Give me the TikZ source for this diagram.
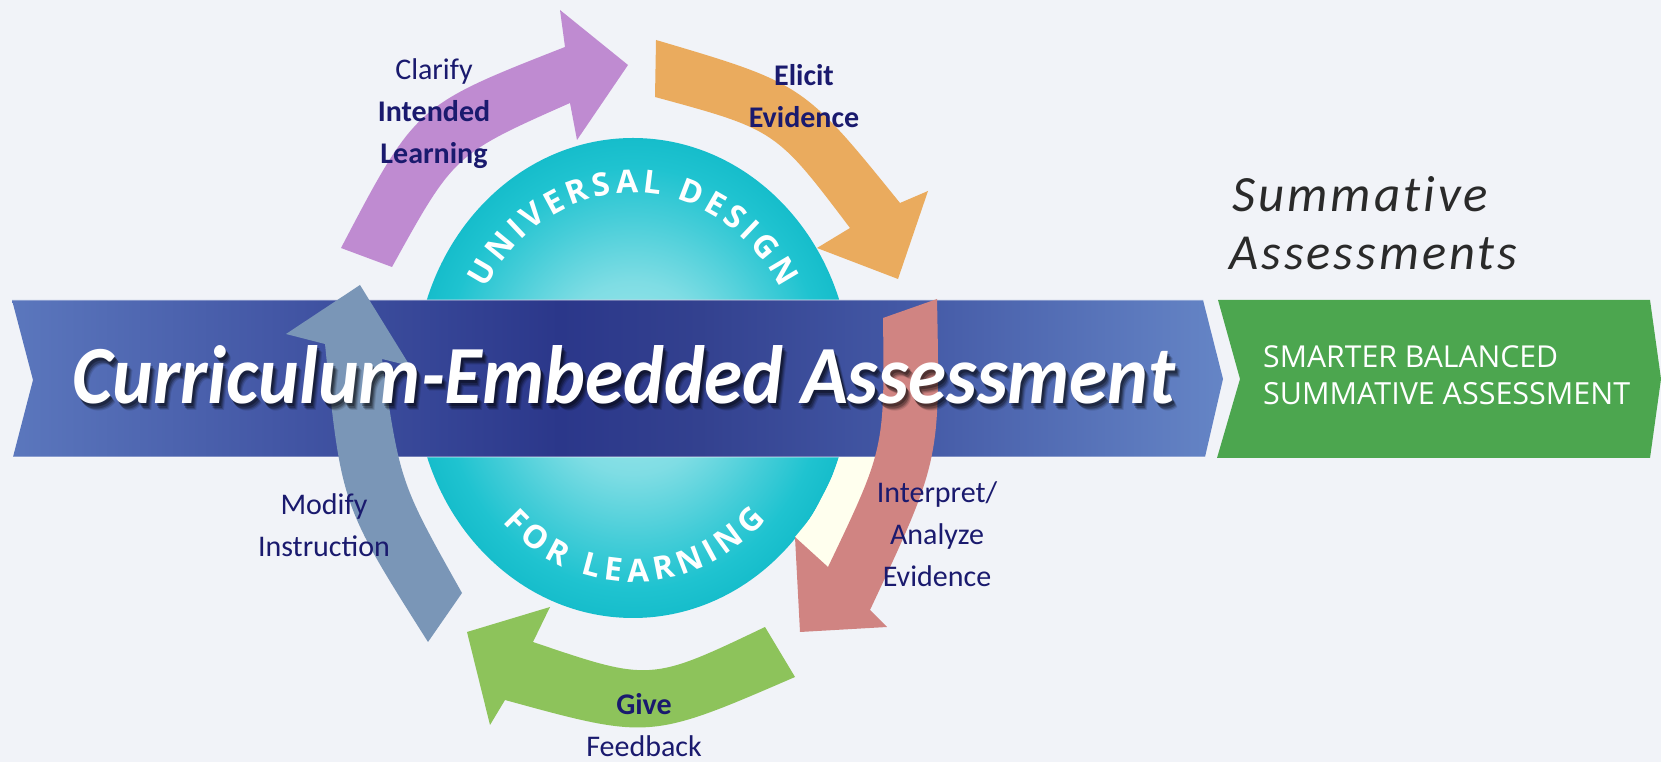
\documentclass[tikz,border=0pt]{standalone}
\usepackage{graphicx}
\usepackage{fontspec}
\setmainfont{Carlito}
\newfontfamily\osans{Open Sans}
\newfontfamily\summfont[LetterSpace=6,Ligatures=CommonOff]{Carlito}
\usetikzlibrary{decorations.text}
\definecolor{bgc}{HTML}{F1F3F8}
\definecolor{bandA}{HTML}{5B77BD}
\definecolor{bandB}{HTML}{4154A3}
\definecolor{bandC}{HTML}{2B378A}
\definecolor{bandD}{HTML}{33418F}
\definecolor{bandE}{HTML}{4358A5}
\definecolor{bandF}{HTML}{6585C6}
\definecolor{tealC}{HTML}{A9EAEE}
\definecolor{tealM1}{HTML}{7FDDE4}
\definecolor{tealM2}{HTML}{45CDD8}
\definecolor{tealE1}{HTML}{1FC3D0}
\definecolor{tealE2}{HTML}{16BDCB}
\definecolor{purpA}{HTML}{BF8BD1}
\definecolor{orngA}{HTML}{EAAB5E}
\definecolor{redA}{HTML}{D08482}
\definecolor{grnA}{HTML}{8DC35B}
\definecolor{blueA}{HTML}{7A96B7}
\definecolor{creamA}{HTML}{FFFFEE}
\definecolor{chevG}{HTML}{4CA64F}
\definecolor{labelc}{HTML}{1A1A6E}
\definecolor{summc}{HTML}{2A2A2A}
\pgfdeclarehorizontalshading{bandshade}{100bp}{color(0bp)=(bandA); color(25bp)=(bandA); color(36.9bp)=(bandB); color(47.6bp)=(bandC); color(53.4bp)=(bandD); color(61.7bp)=(bandE); color(75bp)=(bandF); color(100bp)=(bandF)}
\pgfdeclareradialshading{ballteal}{\pgfpoint{0bp}{0bp}}{color(0bp)=(tealC); color(10bp)=(tealM1); color(17bp)=(tealM2); color(22bp)=(tealE1); color(25bp)=(tealE2); color(50bp)=(tealE2)}
\newcommand\cematitle{\resizebox{1102pt}{58pt}{\bfseries\itshape Curriculum-Embedded Assessment}}
\tikzset{
  lbl/.style={text=labelc, font=\fontsize{30}{42}\selectfont, align=center, inner sep=0pt, anchor=base},
  plain/.style={inner sep=0pt, anchor=base west},
}
\begin{document}
\begin{tikzpicture}[x=1pt,y=1pt]
\useasboundingbox (0,0) rectangle (1661,762);
\fill[bgc] (0,0) rectangle (1661,762);
% central disc
\shade[shading=ballteal] (633,384) ellipse [x radius=218, y radius=240];
\path[decorate, decoration={text along path, text={|\osans\bfseries\fontsize{32}{32}\selectfont\color{white}|UNIVERSAL DESIGN}, text align={fit to path}}]
  (633,384) ++(151:168 and 185) arc[start angle=151, end angle=29, x radius=168, y radius=185];
\path[decorate, decoration={text along path, text={|\osans\bfseries\fontsize{32}{32}\selectfont\color{white}|FOR LEARNING}, text align={fit to path}}]
  (633,384) ++(225:185 and 204) arc[start angle=225, end angle=316, x radius=185, y radius=204];
% purple arrow
\fill[purpA] (341,514) .. controls (415.7,656.5) .. (565,715)
  -- (560,752) -- (628,697) -- (577,622)
  -- (570,659) .. controls (454.3,607.7) .. (392,495) -- cycle;
% orange arrow
\fill[orngA] (656,722) .. controls (803.3,678.5) .. (900,559)
  -- (928,571) -- (898,483) -- (817,514)
  -- (850,534) .. controls (775.8,632.2) .. (655,665) -- cycle;
% cream gap
\fill[creamA] (839,305) -- (885,305) -- (828,195) -- (795,225)
  -- plot[smooth] coordinates {(795,225) (811,245) (822,265) (832,285) (839,305)} -- cycle;
% band
\shade[shading=bandshade] (12,462) -- (1203,462) -- (1223,383) -- (1205,305) -- (13,305) -- (33,382) -- cycle;
\draw[white, opacity=.3, line width=1.2] (12,462) -- (1203,462) (13,305) -- (1205,305);
% green chevron
\fill[chevG] (1218,462) -- (1650,462) -- (1661,383) -- (1650,304) -- (1217,304) -- (1240,383) -- cycle;
% red arrow
\fill[redA] (937,463) .. controls (940.2,301.5) .. (870,152)
  -- (887,135) -- (800,130) -- (795,225)
  -- (828,195) .. controls (884.7,313.5) .. (883,444) -- cycle;
% blue-gray arrow
\fill[blueA] (428,120) .. controls (341.2,257) .. (325,418)
  -- (286,428) -- (360,477) -- (410,396)
  -- (382,403) .. controls (400,279.3) .. (462,169) -- cycle;
% green arrow
\fill[grnA] (795,85) .. controls (650,22.2) .. (505,62)
  -- (490,37) -- (467,130) -- (550,155)
  -- (533,120) .. controls (650.3,80.2) .. (765,135) -- cycle;
% title with shadow
\foreach \dx/\dy/\op in {5/-7/0.12, 4/-6/0.18, 3/-5/0.25, 2/-3/0.3}
  \node[plain, text=black, text opacity=\op] at (72+\dx,358+\dy) {\cematitle};
\node[plain, text=white] (title) at (72,358) {\cematitle};
% cycle labels (anchor = baseline of last line)
\node[lbl] (clarify) at (434,598) {Clarify\\\textbf{Intended}\\\textbf{Learning}};
\node[lbl] (elicit) at (804,634) {\textbf{Elicit}\\\textbf{Evidence}};
\node[lbl] (interp) at (937,175) {Interpret/\\Analyze\\Evidence};
\node[lbl] (modify) at (324,205) {Modify\\Instruction};
\node[lbl] (give) at (644,5) {\textbf{Give}\\Feedback};
% summative
\node[plain, text=summc] (summ1) at (1232,550) {\resizebox{256pt}{!}{\summfont\itshape Summative}};
\node[plain, text=summc] (summ2) at (1229,492) {\resizebox{288pt}{!}{\summfont\itshape Assessments}};
\node[plain, text=white] (sb1) at (1263,394) {\resizebox{295pt}{!}{\osans SMARTER BALANCED}};
\node[plain, text=white] (sb2) at (1263,357) {\resizebox{367pt}{!}{\osans SUMMATIVE ASSESSMENT}};
\end{tikzpicture}
\end{document}
